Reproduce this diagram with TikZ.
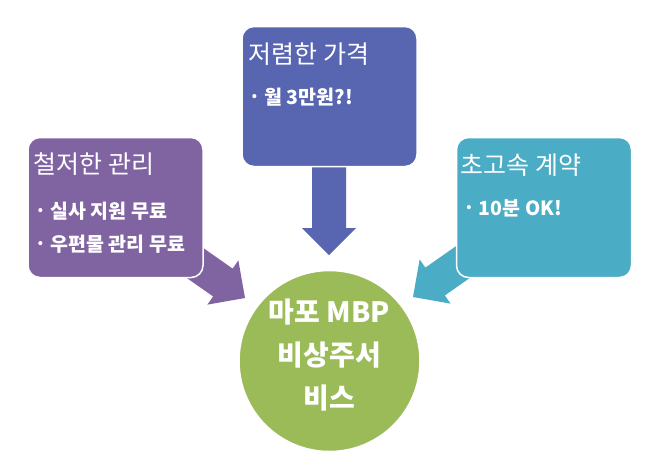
\documentclass[tikz,border=0pt]{standalone}
\usepackage{fontspec}
\setmainfont{Noto Sans CJK KR}
\usetikzlibrary{positioning}

\definecolor{mpurple}{RGB}{128,100,162}
\definecolor{mblue}{RGB}{88,102,177}
\definecolor{mteal}{RGB}{75,172,198}
\definecolor{mgreen}{RGB}{155,187,89}
\newcommand{\bul}{\makebox[10pt][c]{\raisebox{4pt}{\fontsize{13pt}{13pt}\selectfont\textbullet}}\hspace{5pt}}

\begin{document}
\begin{tikzpicture}[
    x=1pt, y=-1pt,
    panel/.style={draw=white, line width=1.5pt, rounded corners=12pt, minimum width=175pt, minimum height=140pt, inner sep=0pt},
    heading/.style={anchor=west, inner sep=0pt, text=white, font=\fontsize{25pt}{25pt}\selectfont},
    item/.style={anchor=west, inner sep=0pt, text=white, font=\fontsize{19.5pt}{19.5pt}\selectfont\bfseries},
    hub/.style={circle, fill=mgreen, draw=white, line width=1.5pt, minimum size=181pt, inner sep=0pt},
    hubtext/.style={align=center, inner sep=0pt, text=white, font=\fontsize{28pt}{43pt}\selectfont\bfseries},
  ]
    \useasboundingbox (0,0) rectangle (663,467);

    % block arrows first, the panels cover their tails
    \foreach \tx/\ty/\ang/\len/\col in {329/255/-90/105/mblue, 245/298/-35/75/mpurple, 413/297/-145/75/mteal}
      \fill[\col, shift={(\tx,\ty)}, rotate=\ang] (-\len,-17) -- (-27,-17) -- (-27,-27) -- (0,0) -- (-27,27) -- (-27,17) -- (-\len,17) -- cycle;

    \node[panel, fill=mpurple] (care) at (115.5,207.5) {};
    \node[panel, fill=mblue] (price) at (329.5,96.5) {};
    \node[panel, fill=mteal] (speed) at (544,207.5) {};
    \node[hub] (hub) at (329.5,361) {};

    \node[heading] (careT) at ([shift={(6,27)}]care.north west) {철저한 관리};
    \node[item] (care1) at ([shift={(8,74)}]care.north west) {\bul 실사 지원 무료};
    \node[item] (care2) at ([shift={(8,107)}]care.north west) {\bul 우편물 관리 무료};

    \node[heading] (priceT) at ([shift={(7,28)}]price.north west) {저렴한 가격};
    \node[item] (price1) at ([shift={(8,71)}]price.north west) {\bul 월 3만원?!};

    \node[heading] (speedT) at ([shift={(5,28)}]speed.north west) {초고속 계약};
    \node[item] (speed1) at ([shift={(8,72)}]speed.north west) {\bul 10분 OK!};

    \node[hubtext] (hubT) at ([yshift=6pt]hub.center) {마포 MBP\\비상주서\\비스};
  \end{tikzpicture}
\end{document}
